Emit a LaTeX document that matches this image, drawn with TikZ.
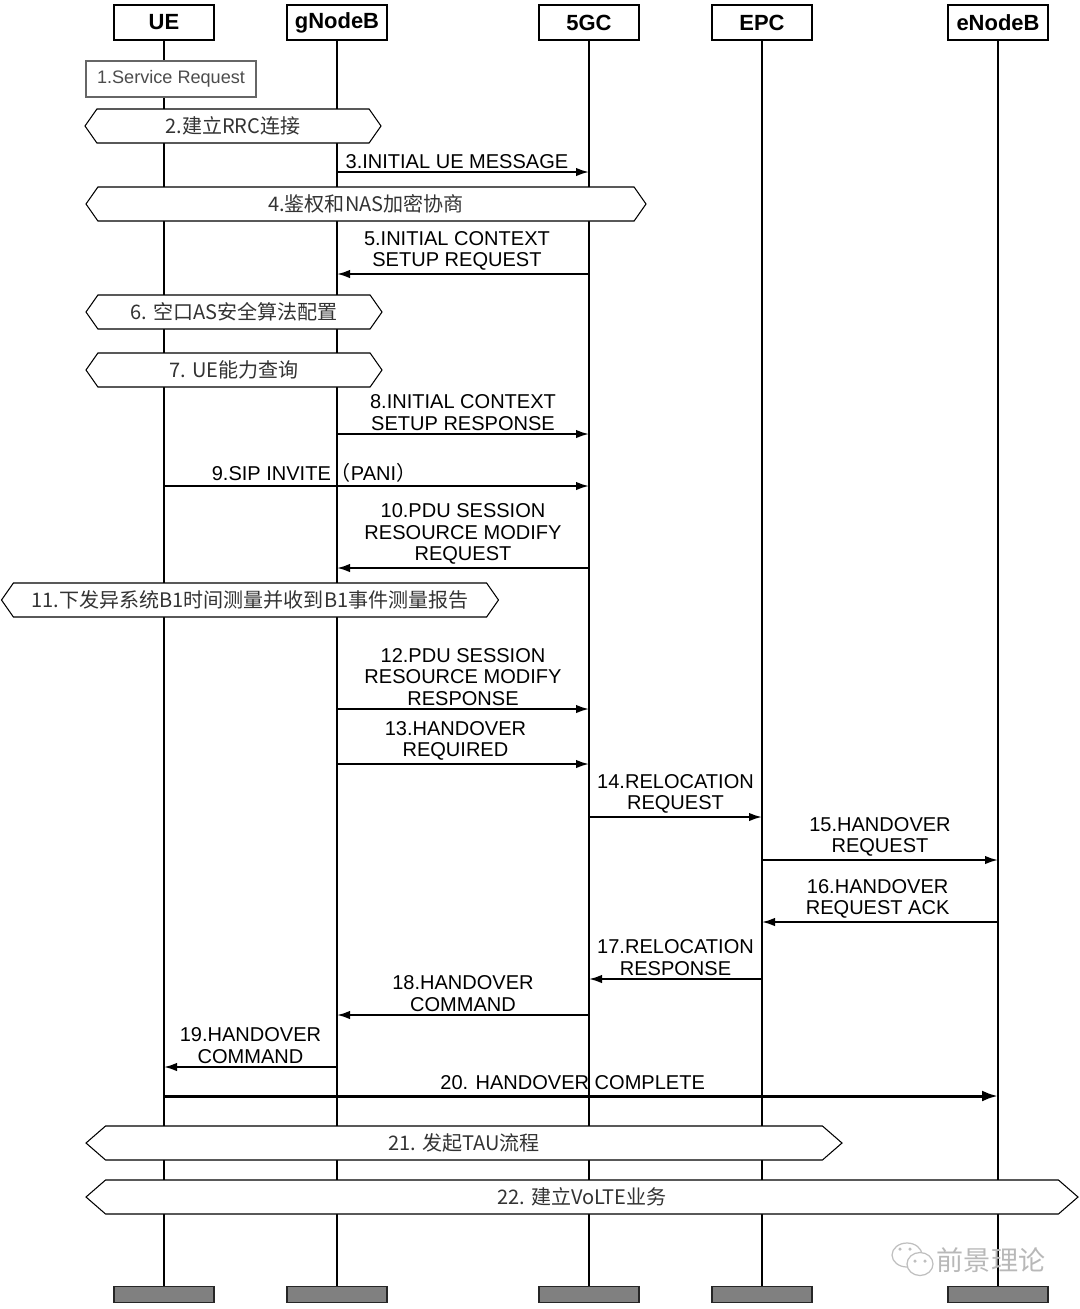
\documentclass[tikz,border=0pt]{standalone}
\usepackage{fontspec}
\setmainfont{Liberation Sans}
\newfontfamily\cjk{Noto Sans CJK SC}
\usetikzlibrary{arrows.meta}
\usetikzlibrary{shapes.symbols}

\begin{document}
\begin{tikzpicture}[x=0.2mm,y=-0.2mm,
  head/.style={draw, line width=0.7pt, fill=white, minimum width=20mm, minimum height=7mm,
    font=\fontsize{12.5}{14}\selectfont\bfseries},
  foot/.style={draw=black!85, fill=black!50, line width=0.8pt, minimum width=20mm, minimum height=3.2mm},
  life/.style={line width=0.7pt},
  msg/.style={line width=1.1pt, -{Latex[length=2.6mm,width=1.7mm]}},
  lbl/.style={above, align=center, inner sep=1.5pt, font=\fontsize{11.4}{12.2}\selectfont},
  hex/.style={draw, line width=0.6pt, fill=white, signal, signal to=east and west,
    minimum height=6.8mm, inner xsep=0pt, text=black!80, font=\cjk\fontsize{11.4}{13}\selectfont}]
\useasboundingbox (0,0) rectangle (1080,1309);

% lifelines
\foreach \n/\x/\l in {ue/164/UE, gnb/337/gNodeB, gc/589/5GC, epc/762/EPC, enb/998/eNodeB}
{\node[head] (\n) at (\x,22.5) {\l};
 \node[foot] (f\n) at (\x,1294.5) {};
 \draw[life] (\n) -- (f\n);}

\node[draw=black!60, line width=0.6pt, fill=white, minimum width=34mm, minimum height=7.2mm,
  text=black!70, font=\fontsize{10.3}{12}\selectfont] (sr) at (171,79) {1.Service Request};

% procedures
\foreach \i/\x/\y/\w/\a/\t in {2/233/126/296/110/{2.建立RRC连接},
  4/366/204/560/110/{4.鉴权和NAS加密协商},
  6/234/312/296/110/{6. 空口AS安全算法配置},
  7/234/370/296/110/{7. UE能力查询},
  11/250/600/497/110/{11.下发异系统B1时间测量并收到B1事件测量报告},
  21/464/1143/756/82/{21. 发起TAU流程},
  22/582/1197/992/82/{22. 建立VoLTE业务}}
{\node[hex, signal pointer angle=\a, minimum width=\w*0.2mm] (p\i) at (\x,\y) {\t};}

% messages
\foreach \a/\b/\y/\p/\t in {gnb/gc/172/0.476/{3.INITIAL UE MESSAGE},
  gc/gnb/274/0.524/{5.INITIAL CONTEXT\\SETUP REQUEST},
  gnb/gc/434/0.5/{8.INITIAL CONTEXT\\SETUP RESPONSE},
  ue/gc/486/0.353/{9.SIP INVITE{\cjk （}PANI{\cjk ）}},
  gc/gnb/568/0.5/{10.PDU SESSION\\RESOURCE MODIFY\\REQUEST},
  gnb/gc/709/0.5/{12.PDU SESSION\\RESOURCE MODIFY\\RESPONSE},
  gnb/gc/764/0.47/{13.HANDOVER\\REQUIRED},
  gc/epc/817/0.5/{14.RELOCATION\\REQUEST},
  epc/enb/860/0.5/{15.HANDOVER\\REQUEST},
  enb/epc/922/0.51/{16.HANDOVER\\REQUEST ACK},
  epc/gc/979/0.5/{17.RELOCATION\\RESPONSE},
  gc/gnb/1015/0.5/{18.HANDOVER\\COMMAND},
  gnb/ue/1067/0.5/{19.HANDOVER\\COMMAND}}
{\draw[msg] (\a |- 0,\y) -- node[lbl, pos=\p] {\t} (\b |- 0,\y);}

\draw[msg, line width=1.7pt, -{Latex[length=3.2mm,width=2.2mm]}] (ue |- 0,1096)
  -- node[lbl, pos=0.49, inner sep=2.5pt] {20. HANDOVER COMPLETE} (enb |- 0,1096);

% watermark
\draw[black!25, line width=0.7pt, fill=white] (907,1255) ellipse [x radius=3mm, y radius=2.4mm];
\draw[black!25, line width=0.7pt, fill=white] (920,1264) ellipse [x radius=2.6mm, y radius=2.3mm];
\foreach \dx/\dy in {900/1249, 910/1249, 915/1261, 925/1261}
{\fill[black!25] (\dx,\dy) circle (0.35mm);}
\node[text=black!28, font=\cjk\fontsize{15.4}{16}\selectfont] (wm) at (991,1260) {前景理论};
\end{tikzpicture}
\end{document}
